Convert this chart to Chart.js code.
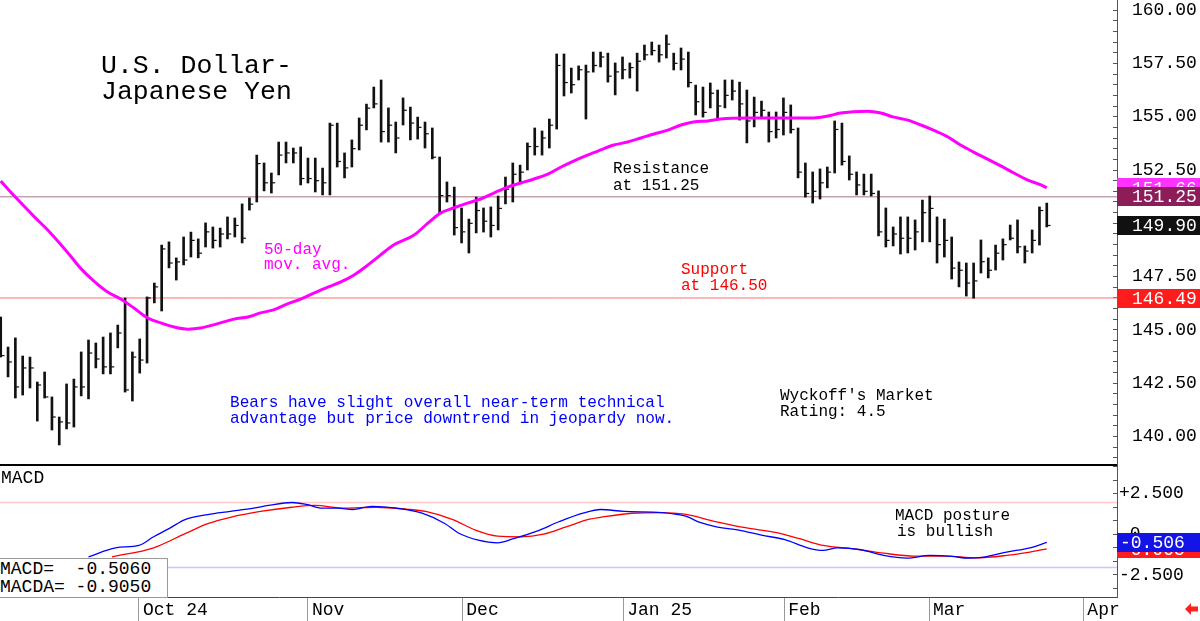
<!DOCTYPE html>
<html>
<head>
<meta charset="utf-8">
<script src="https://cdn.jsdelivr.net/npm/chart.js@4.4.1/dist/chart.umd.min.js"></script>
<style>
    html, body { margin: 0; padding: 0; background: #fff; }
    #wrap { position: relative; width: 1200px; height: 621px; overflow: hidden; background: #fff; }
    #priceCanvas { position: absolute; left: 0; top: 0; }
    #macdCanvas { position: absolute; left: 0; top: 466px; }
    .note { position: absolute; font-family: 'Liberation Mono', monospace; white-space: pre; line-height: normal; }
    #macdBox { position: absolute; left: -1px; top: 558px; width: 169px; height: 40px; box-sizing: border-box; border: 1px solid #999; background: #fff; }
</style>
</head>
<body>
<div id="wrap">
    <canvas id="priceCanvas" width="1200" height="466"></canvas>
    <canvas id="macdCanvas" width="1200" height="155"></canvas>
    <div id="macdBox"></div>
</div>
<script>
// x axis runs in trading-day index units (0 = first bar on the left)
const xMin = -0.1, xMax = 152.6;
const priceMin = 138.67, priceMax = 160.47;
const macdMin = -3.87, macdMax = 4.20;

// Daily bars
const highs = [
    145.61, 144.20, 144.63, 143.78, 143.73, 142.56, 143.03, 141.86, 140.92, 142.47,
    142.70, 143.97, 144.53, 144.39, 144.67, 144.86, 145.23, 146.50, 143.97, 144.58,
    146.55, 147.20, 148.98, 149.13, 148.38, 149.36, 149.59, 149.27, 150.02, 149.83,
    149.78, 150.30, 150.25, 150.91, 151.19, 153.20, 152.83, 152.36, 153.81, 153.81,
    153.53, 153.58, 153.06, 153.06, 152.59, 154.70, 154.70, 153.30, 153.91, 154.94,
    155.59, 156.39, 156.72, 155.41, 154.75, 155.88, 155.45, 154.98, 154.75, 154.47,
    153.11, 151.94, 151.70, 150.72, 150.20, 151.23, 150.72, 150.77, 151.28, 152.17,
    152.83, 152.73, 153.77, 154.47, 154.33, 154.89, 157.94, 157.94, 157.28, 157.38,
    157.42, 158.03, 158.03, 157.98, 157.52, 157.80, 157.52, 157.98, 158.36, 158.50,
    158.36, 158.83, 157.98, 158.22, 158.03, 156.48, 156.39, 156.58, 156.25, 156.72,
    156.72, 156.62, 156.25, 155.92, 155.73, 155.22, 155.22, 155.88, 155.55, 154.47,
    152.83, 152.41, 152.55, 152.64, 154.80, 154.70, 153.16, 152.41, 152.31, 152.31,
    151.52, 150.72, 149.83, 150.30, 150.30, 150.16, 151.09, 151.28, 150.30, 150.20,
    149.36, 148.19, 148.14, 148.14, 149.22, 148.38, 148.98, 149.27, 149.92, 150.16,
    148.94, 149.69, 150.77, 150.95
];
const lows = [
    143.73, 142.80, 141.81, 141.95, 142.28, 140.73, 141.81, 140.31, 139.61, 140.36,
    140.45, 141.91, 141.77, 143.22, 142.94, 142.94, 144.16, 142.09, 141.67, 142.98,
    143.45, 146.27, 145.89, 147.91, 147.34, 148.05, 148.42, 148.38, 148.89, 148.84,
    148.89, 149.27, 149.36, 149.08, 150.62, 151.00, 151.52, 151.42, 152.27, 152.83,
    152.83, 151.80, 151.89, 151.47, 151.33, 151.33, 152.64, 152.13, 152.64, 153.44,
    154.38, 155.41, 153.81, 153.81, 153.30, 154.61, 153.91, 153.95, 153.53, 153.02,
    150.44, 151.00, 149.45, 149.08, 148.61, 149.55, 149.59, 149.36, 149.69, 150.91,
    151.00, 151.89, 152.50, 153.20, 153.20, 153.53, 154.42, 155.97, 156.11, 156.72,
    154.89, 157.09, 157.33, 156.62, 156.02, 156.77, 156.81, 156.20, 157.66, 157.89,
    157.56, 157.75, 157.19, 157.19, 156.39, 155.08, 154.98, 155.41, 154.84, 155.41,
    155.78, 154.84, 153.77, 154.52, 154.94, 153.81, 154.00, 154.14, 154.23, 152.13,
    151.23, 150.95, 151.14, 151.66, 152.36, 152.73, 152.03, 151.33, 151.33, 151.28,
    149.41, 148.89, 148.94, 148.56, 148.61, 148.75, 149.13, 149.13, 148.14, 148.42,
    147.39, 147.02, 146.59, 146.49, 147.67, 147.44, 147.81, 148.28, 149.22, 148.61,
    148.14, 148.61, 148.98, 149.83
];
const closes = [
    143.80, 143.50, 142.33, 143.22, 143.22, 142.42, 141.86, 140.92, 140.69, 140.64,
    142.33, 142.33, 143.92, 143.64, 143.27, 143.27, 144.86, 142.19, 143.73, 143.59,
    146.50, 147.02, 148.80, 148.14, 148.19, 148.28, 149.20, 148.60, 149.60, 149.20,
    149.50, 149.50, 149.90, 149.30, 150.90, 152.80, 151.90, 151.90, 153.20, 153.30,
    153.30, 152.10, 152.10, 152.00, 151.90, 154.60, 152.90, 152.60, 153.50, 154.60,
    155.40, 155.60, 154.30, 154.60, 154.00, 155.30, 154.70, 154.50, 154.20, 153.10,
    151.30, 151.30, 149.80, 149.60, 150.00, 150.60, 150.10, 149.90, 150.70, 151.60,
    152.30, 152.40, 153.60, 153.60, 154.00, 154.60, 157.40, 156.60, 156.50, 157.20,
    157.10, 157.40, 157.80, 156.90, 157.10, 157.20, 157.30, 157.60, 157.90, 158.10,
    157.90, 158.40, 157.50, 157.70, 156.60, 155.70, 155.20, 156.10, 155.50, 156.00,
    156.20, 155.60, 154.80, 155.20, 155.30, 154.30, 154.40, 155.20, 154.40, 152.40,
    151.40, 151.50, 151.90, 152.40, 154.40, 152.90, 152.30, 151.80, 151.50, 151.40,
    149.60, 149.20, 149.50, 149.30, 149.30, 149.60, 150.50, 150.70, 149.00, 149.20,
    147.90, 147.80, 147.20, 147.30, 148.20, 147.80, 148.60, 149.00, 149.30, 148.90,
    148.70, 149.20, 150.60, 149.90
];

// 50-day moving average, sampled along the curve
const maIdx = [
    0, 2, 4.5, 6.8, 9.2, 10.9, 12.7, 14.6, 16.4, 18.2, 20.1, 21.9, 23.7, 25.6, 27.3,
    29.1, 31.9, 33.8, 35.5, 37.3, 39.2, 41.0, 42.8, 44.7, 46.5, 48.3, 50.2, 51.9, 53.7,
    56.5, 58.4, 60.1, 61.9, 63.8, 65.6, 67.4, 69.3, 71.1, 72.9, 74.8, 76.6, 78.3, 80.2,
    82.0, 83.8, 85.7, 87.5, 89.3, 91.2, 93.0, 94.7, 96.7, 98.4, 102.1, 107.6, 111.1,
    113.1, 114.8, 118.5, 120.3, 122.1, 124.0, 125.8, 127.5, 129.5, 131.2, 133.0, 134.9,
    136.7, 138.5, 140.4, 142.2, 143
];
const maVals = [
    151.98, 151.23, 150.34, 149.55, 148.61, 147.90, 147.30, 146.78, 146.45, 146.03,
    145.56, 145.33, 145.14, 145.04, 145.09, 145.24, 145.51, 145.61, 145.80, 145.94,
    146.22, 146.45, 146.73, 147.01, 147.25, 147.58, 148.05, 148.51, 148.98, 149.45,
    150.01, 150.48, 150.72, 150.95, 151.14, 151.42, 151.70, 151.89, 152.08, 152.31,
    152.64, 152.92, 153.20, 153.44, 153.67, 153.81, 154.00, 154.19, 154.37, 154.61,
    154.75, 154.80, 154.89, 154.94, 154.94, 154.94, 155.03, 155.17, 155.26, 155.17,
    154.98, 154.84, 154.61, 154.37, 154.05, 153.67, 153.34, 153.01, 152.69, 152.36,
    152.03, 151.80, 151.66
];

const resistance = 151.25;
const support = 146.50;
const priceFlagVals = [151.66, 151.25, 149.90, 146.49];
const priceFlagColors = ['#ff33ff', '#8c1d59', '#111111', '#ff1c1c'];

const priceMajor = [140, 142.5, 145, 147.5, 150, 152.5, 155, 157.5, 160];
const priceMajorLabels = ['140.00', '142.50', '145.00', '147.50', '150.00', '152.50', '155.00', '157.50', '160.00'];
const priceMinorStep = 0.5;

// MACD (blue) and its signal line (red)
const macdIdx = [
    12.0, 15.7, 18.9, 20.9, 23.0, 25.2, 28.3, 31.4, 34.6, 36.6, 39.8, 41.8, 43.9, 46.1,
    48.1, 50.7, 55.0, 57.6, 60.7, 62.7, 65.3, 67.9, 70.1, 73.3, 76.4, 79.6, 82.0, 85.2,
    90.4, 93.5, 95.7, 97.7, 100.9, 104.0, 107.2, 110.3, 112.4, 114.4, 117.6, 120.7,
    123.9, 127.0, 130.1, 132.2, 134.4, 137.5, 140.7, 143
];
const macdVals = [
    -1.40, -0.84, -0.69, -0.16, 0.34, 0.90, 1.21, 1.40, 1.60, 1.77, 1.95, 1.83, 1.60, 1.60,
    1.52, 1.71, 1.54, 1.29, 0.66, 0.04, -0.37, -0.53, -0.28, 0.19, 0.78, 1.29, 1.52, 1.40,
    1.33, 1.12, 0.71, 0.47, 0.25, -0.06, -0.34, -0.84, -1.00, -0.84, -0.96, -1.31,
    -1.48, -1.31, -1.37, -1.48, -1.41, -1.10, -0.84, -0.506
];
const sigIdx = [
    15.2, 20.9, 25.2, 28.3, 31.4, 35.5, 39.8, 42.9, 47.0, 51.3, 55.5, 58.1, 61.8, 64.9,
    67.9, 71.1, 74.2, 77.4, 80.5, 82.0, 86.3, 90.4, 93.5, 97.7, 101.8, 106.1, 109.2,
    112.4, 116.6, 120.7, 124.9, 129.1, 133.3, 137.5, 140.7, 143
];
const sigVals = [
    -1.40, -0.84, 0.03, 0.65, 1.04, 1.40, 1.66, 1.77, 1.60, 1.66, 1.54, 1.40, 0.90, 0.25,
    -0.12, -0.16, 0.00, 0.47, 0.92, 1.04, 1.29, 1.33, 1.23, 0.78, 0.40, 0.09, -0.28,
    -0.69, -0.90, -1.17, -1.35, -1.35, -1.46, -1.31, -1.10, -0.905
];
const macdUpper = 1.95;
const macdLower = -2.05;
const macdFlagVals = [-0.905, -0.506];
const macdFlagColors = ['#ff1c1c', '#1414e6'];

const macdTickStep = 2.5 / 3;
const macdTickLabels = ['', '-2.500', '', '', ' 0', '', '', '+2.500', '', ''];

const monthPos = [18.9, 42.0, 63.1, 85.1, 107.1, 126.9, 148.0];
const monthLabels = ['Oct 24', 'Nov', 'Dec', 'Jan 25', 'Feb', 'Mar', 'Apr'];

const MONO = "'Liberation Mono', monospace";

// Text notes on top of the charts: [text, left, baseline, size, colour]
const notes = [
    ['U.S. Dollar-', 101, 73.3, 26.5, '#000'],
    ['Japanese Yen', 101, 99.5, 26.5, '#000'],
    ['50-day', 264, 254, 16, '#ff00ff'],
    ['mov. avg.', 264, 269.5, 16, '#ff00ff'],
    ['Resistance', 613, 173.5, 16, '#000'],
    ['at 151.25', 613, 190, 16, '#000'],
    ['Support', 681, 274, 16, '#ff0000'],
    ['at 146.50', 681, 290.5, 16, '#ff0000'],
    ['Bears have slight overall near-term technical', 230, 407, 16.1, '#0000ff'],
    ['advantage but price downtrend in jeopardy now.', 230, 423.5, 16.1, '#0000ff'],
    ["Wyckoff's Market", 780, 400, 16, '#000'],
    ['Rating: 4.5', 780, 416, 16, '#000'],
    ['MACD', 1, 483, 18, '#000'],
    ['MACD posture', 895, 520.4, 16, '#000'],
    ['is bullish', 897, 536.5, 16, '#000'],
    ['MACD=  -0.5060', 0, 574, 18, '#000'],
    ['MACDA= -0.9050', 0, 591.5, 18, '#000']
];

const wrap = document.getElementById('wrap');
notes.forEach(([text, x, base, size, color]) => {
    const d = document.createElement('div');
    d.className = 'note';
    d.textContent = text;
    d.style.left = x + 'px';
    d.style.top = (base - size * 0.8325) + 'px';
    d.style.fontSize = size + 'px';
    d.style.color = color;
    wrap.appendChild(d);
});

function drawFlag(ctx, scale, value, bg, text, textX) {
    const y = scale.getPixelForValue(value);
    ctx.fillStyle = bg;
    ctx.fillRect(scale.left, Math.round(y - 9.5), scale.chart.width - scale.left, 19);
    ctx.fillStyle = '#fff';
    ctx.font = '18px ' + MONO;
    ctx.textBaseline = 'middle';
    ctx.textAlign = 'left';
    ctx.fillText(text, textX, y + 1);
}

function zeroPadding(s) {
    s.paddingTop = 0; s.paddingBottom = 0; s.paddingLeft = 0; s.paddingRight = 0;
}

const pricePlugin = {
    id: 'priceExtras',
    afterDraw(chart) {
        const ctx = chart.ctx;
        const a = chart.chartArea;
        ctx.save();
        ctx.strokeStyle = '#000';
        ctx.lineWidth = 2;
        ctx.beginPath();
        ctx.moveTo(0, a.bottom);
        ctx.lineTo(a.right, a.bottom);
        ctx.stroke();
        priceFlagVals.forEach((v, i) => drawFlag(ctx, chart.scales.y, v, priceFlagColors[i], v.toFixed(2), 1132));
        ctx.restore();
    }
};

const macdPlugin = {
    id: 'macdExtras',
    afterDraw(chart) {
        const ctx = chart.ctx;
        ctx.save();
        macdFlagVals.forEach((v, i) => drawFlag(ctx, chart.scales.y, v, macdFlagColors[i], v.toFixed(3), 1120));
        // little red arrow in the corner
        ctx.fillStyle = '#ff2020';
        ctx.beginPath();
        ctx.moveTo(1185, 143);
        ctx.lineTo(1191, 137);
        ctx.lineTo(1191, 140.5);
        ctx.lineTo(1198, 140.5);
        ctx.lineTo(1198, 145.5);
        ctx.lineTo(1191, 145.5);
        ctx.lineTo(1191, 149);
        ctx.closePath();
        ctx.fill();
        ctx.restore();
    }
};

const priceTickVals = [];
for (let v = 139; v <= 160; v += priceMinorStep) priceTickVals.push(v);

const priceChart = new Chart(document.getElementById('priceCanvas'), {
    type: 'bar',
    data: {
        datasets: [
            {
                type: 'bar',
                data: highs.map((h, i) => ({ x: i, y: [lows[i], h] })),
                backgroundColor: '#111',
                barThickness: 2,
                grouped: false,
                order: 3
            },
            {
                type: 'line',
                data: closes.map((c, i) => ({ x: i + 0.3, y: c })),
                showLine: false,
                pointStyle: 'line',
                pointRadius: 1.6,
                pointHoverRadius: 1.6,
                pointBorderWidth: 1.2,
                pointBorderColor: '#111',
                order: 2
            },
            {
                type: 'line',
                data: maIdx.map((x, i) => ({ x: x, y: maVals[i] })),
                borderColor: '#ff00ff',
                borderWidth: 3,
                pointRadius: 0,
                pointHoverRadius: 0,
                cubicInterpolationMode: 'monotone',
                order: 1
            },
            {
                type: 'line',
                data: [{ x: xMin, y: resistance }, { x: xMax, y: resistance }],
                borderColor: '#c4a2b4',
                borderWidth: 1.5,
                pointRadius: 0,
                pointHoverRadius: 0,
                order: 5
            },
            {
                type: 'line',
                data: [{ x: xMin, y: support }, { x: xMax, y: support }],
                borderColor: '#ff7070',
                borderWidth: 1,
                pointRadius: 0,
                pointHoverRadius: 0,
                order: 5
            }
        ]
    },
    options: {
        responsive: false,
        animation: false,
        events: [],
        layout: { autoPadding: false, padding: { left: 0, right: 0, top: 0, bottom: 1 } },
        plugins: { legend: { display: false }, tooltip: { enabled: false } },
        scales: {
            x: {
                type: 'linear',
                display: false,
                min: xMin,
                max: xMax,
                offset: false,
                grid: { offset: false }
            },
            y: {
                position: 'right',
                min: priceMin,
                max: priceMax,
                afterBuildTicks: s => { s.ticks = priceTickVals.map(v => ({ value: v })); },
                afterFit: s => { s.width = 83; zeroPadding(s); },
                ticks: {
                    autoSkip: false,
                    padding: 19,
                    color: '#000',
                    font: { family: MONO, size: 18 },
                    callback: v => {
                        const k = priceMajor.indexOf(v);
                        return k >= 0 ? priceMajorLabels[k] : '';
                    }
                },
                grid: { drawOnChartArea: false, tickLength: -4, color: '#555' },
                border: { color: '#555', width: 1 }
            }
        }
    },
    plugins: [pricePlugin]
});

const macdTickVals = macdTickLabels.map((_, i) => (i - 4) * macdTickStep);

const macdChart = new Chart(document.getElementById('macdCanvas'), {
    type: 'line',
    data: {
        datasets: [
            {
                data: macdIdx.map((x, i) => ({ x: x, y: macdVals[i] })),
                borderColor: '#0000ff',
                borderWidth: 1.3,
                pointRadius: 0,
                pointHoverRadius: 0,
                cubicInterpolationMode: 'monotone',
                order: 1
            },
            {
                data: sigIdx.map((x, i) => ({ x: x, y: sigVals[i] })),
                borderColor: '#ff0000',
                borderWidth: 1.3,
                pointRadius: 0,
                pointHoverRadius: 0,
                cubicInterpolationMode: 'monotone',
                order: 2
            },
            {
                data: [{ x: xMin, y: macdUpper }, { x: xMax, y: macdUpper }],
                borderColor: '#ffc8c8',
                borderWidth: 1.5,
                pointRadius: 0,
                pointHoverRadius: 0,
                order: 5
            },
            {
                data: [{ x: xMin, y: macdLower }, { x: xMax, y: macdLower }],
                borderColor: '#c8c8ff',
                borderWidth: 1.5,
                pointRadius: 0,
                pointHoverRadius: 0,
                order: 5
            }
        ]
    },
    options: {
        responsive: false,
        animation: false,
        events: [],
        layout: { autoPadding: false, padding: 0 },
        plugins: { legend: { display: false }, tooltip: { enabled: false } },
        scales: {
            x: {
                type: 'linear',
                min: xMin,
                max: xMax,
                offset: false,
                afterBuildTicks: s => { s.ticks = monthPos.map(v => ({ value: v })); },
                afterFit: s => { s.height = 24; zeroPadding(s); },
                ticks: {
                    autoSkip: false,
                    maxRotation: 0,
                    align: 'start',
                    labelOffset: 4,
                    padding: -22,
                    color: '#000',
                    font: { family: MONO, size: 18 },
                    callback: (v, i) => monthLabels[i]
                },
                grid: { drawOnChartArea: false, tickLength: 24, color: '#999', offset: false },
                border: { color: '#444', width: 1 }
            },
            y: {
                position: 'right',
                min: macdMin,
                max: macdMax,
                afterBuildTicks: s => { s.ticks = macdTickVals.map(v => ({ value: v })); },
                afterFit: s => { s.width = 83; zeroPadding(s); },
                ticks: {
                    autoSkip: false,
                    padding: 6,
                    color: '#000',
                    font: { family: MONO, size: 18 },
                    callback: (v, i) => macdTickLabels[i]
                },
                grid: { drawOnChartArea: false, tickLength: -4, color: '#555' },
                border: { color: '#555', width: 1 }
            }
        }
    },
    plugins: [macdPlugin]
});
</script>
</body>
</html>
